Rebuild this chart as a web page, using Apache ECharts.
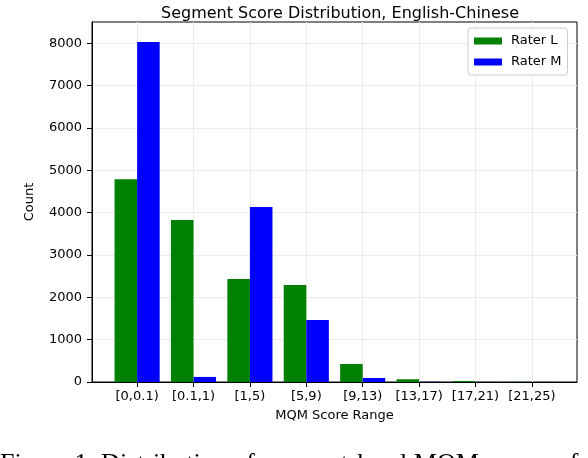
<!DOCTYPE html>
<html>
<head>
<meta charset="utf-8">
<script src="https://cdn.jsdelivr.net/npm/echarts@6/dist/echarts.min.js"></script>
<style>
  html, body { margin: 0; padding: 0; background: #fff; }
  #main { width: 588px; height: 458px; }
</style>
</head>
<body>
<div id="main"></div>
<script>
// score ranges on the x axis
var categories = ['[0,0.1)', '[0.1,1)', '[1,5)', '[5,9)', '[9,13)', '[13,17)', '[17,21)', '[21,25)'];
// segment counts per rater
var raterL = [4790, 3825, 2430, 2290, 425, 65, 25, 5];
var raterM = [8030, 120, 4130, 1465, 95, 5, 2, 1];
var yTicks = [0, 1000, 2000, 3000, 4000, 5000, 6000, 7000, 8000];

var font = 'DejaVu Sans';

function toPoints(arr) {
  var out = [];
  for (var i = 0; i < arr.length; i++) {
    out.push([i, arr[i]]);
  }
  return out;
}

var chart = echarts.init(document.getElementById('main'), null, { renderer: 'canvas' });

var option = {
  animation: false,
  textStyle: { fontFamily: font },
  title: {
    text: 'Segment Score Distribution, English-Chinese',
    left: 335,
    top: 1,
    textAlign: 'center',
    textStyle: { fontFamily: font, fontSize: 16, fontWeight: 'normal', color: '#000' }
  },
  legend: {
    orient: 'vertical',
    left: 468,
    top: 28,
    padding: [6, 6, 6, 6],
    itemWidth: 28,
    itemHeight: 7,
    itemGap: 7,
    borderColor: '#cccccc',
    borderWidth: 1,
    borderRadius: 3,
    backgroundColor: 'rgba(255,255,255,0.8)',
    icon: 'rect',
    textStyle: { fontFamily: font, fontSize: 13, color: '#000', lineHeight: 14, padding: [0, 0, 0, 4] },
    data: ['Rater L', 'Rater M']
  },
  grid: {
    left: 92,
    right: 11,
    top: 22,
    bottom: 76,
    show: true,
    borderColor: '#000',
    borderWidth: 1,
    backgroundColor: 'transparent'
  },
  xAxis: {
    type: 'value',
    min: -0.8,
    max: 7.8,
    name: 'MQM Score Range',
    nameLocation: 'middle',
    nameGap: 27,
    nameTextStyle: { fontFamily: font, fontSize: 13, color: '#000' },
    axisLine: { show: true, onZero: false, lineStyle: { color: '#000', width: 1 } },
    axisTick: { show: true, length: 5, lineStyle: { color: '#000' }, customValues: [0, 1, 2, 3, 4, 5, 6, 7] },
    axisLabel: {
      customValues: [0, 1, 2, 3, 4, 5, 6, 7],
      margin: 8,
      fontFamily: font,
      fontSize: 13,
      color: '#000',
      formatter: function (v) { return categories[Math.round(v)]; }
    },
    splitLine: { show: true, lineStyle: { color: '#ebebeb', width: 1 } }
  },
  yAxis: {
    type: 'value',
    min: 0,
    max: 8500,
    name: 'Count',
    nameLocation: 'middle',
    nameGap: 56,
    nameTextStyle: { fontFamily: font, fontSize: 13, color: '#000' },
    axisLine: { show: true, onZero: false, lineStyle: { color: '#000', width: 1 } },
    axisTick: { show: true, length: 5, lineStyle: { color: '#000' }, customValues: yTicks },
    axisLabel: {
      customValues: yTicks,
      margin: 10,
      fontFamily: font,
      fontSize: 13,
      color: '#000',
      formatter: function (v) { return String(v); }
    },
    splitLine: { show: true, lineStyle: { color: '#ebebeb', width: 1 } }
  },
  series: [
    {
      name: 'Rater L',
      type: 'bar',
      barWidth: '40%',
      barGap: '0%',
      itemStyle: { color: '#008000' },
      data: toPoints(raterL)
    },
    {
      name: 'Rater M',
      type: 'bar',
      barWidth: '40%',
      barGap: '0%',
      itemStyle: { color: '#0000ff' },
      data: toPoints(raterM)
    }
  ],
  graphic: [
    {
      type: 'text',
      left: 0,
      top: 451,
      style: {
        text: 'Figure 1: Distribution of segment-level MQM scores of',
        font: '26px "Liberation Serif"',
        fill: '#000'
      }
    }
  ]
};

chart.setOption(option);
</script>
</body>
</html>
